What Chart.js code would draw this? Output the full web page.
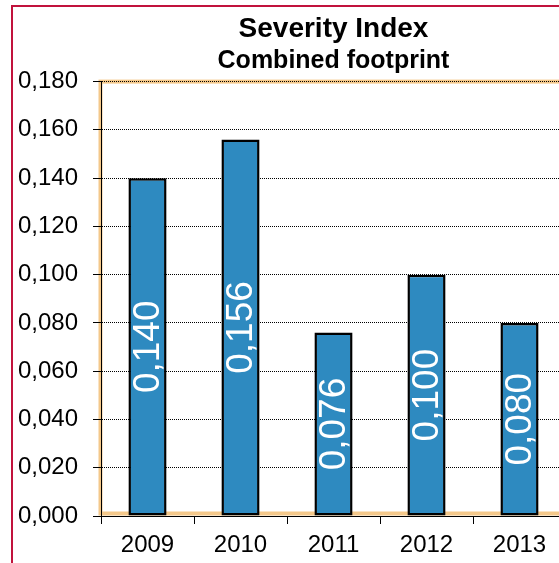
<!DOCTYPE html>
<html>
<head>
<meta charset="utf-8">
<script src="https://cdn.jsdelivr.net/npm/chart.js@4/dist/chart.umd.min.js"></script>
<style>
  html, body { margin: 0; padding: 0; overflow: hidden; background: #fff; }
  #wrap { width: 667px; height: 563px; }
</style>
</head>
<body>
<div id="wrap"><canvas id="c" width="667" height="563"></canvas></div>
<script>
const categories = ['2009', '2010', '2011', '2012', '2013'];
const severityValues = [0.140, 0.156, 0.076, 0.100, 0.080];
const yMin = 0;
const yMax = 0.18;
const yStep = 0.02;
const titleText = 'Severity Index';
const subtitleText = 'Combined footprint';

const FONT = "'Liberation Sans', Arial, sans-serif";
const fmt = v => Number(v).toFixed(3).replace('.', ',');

const framePlugin = {
  id: 'frame',
  beforeDraw(chart) {
    const ctx = chart.ctx;
    const a = chart.chartArea;
    ctx.save();
    ctx.fillStyle = '#ffffff';
    ctx.fillRect(0, 0, chart.width, chart.height);
    // outer crimson border
    ctx.strokeStyle = '#c1123c';
    ctx.lineWidth = 2;
    ctx.beginPath();
    ctx.moveTo(12, chart.height + 2);
    ctx.lineTo(12, 6);
    ctx.lineTo(chart.width + 2, 6);
    ctx.stroke();
    // orange plot area border
    ctx.strokeStyle = '#f4c88a';
    ctx.lineWidth = 4;
    ctx.strokeRect(a.left - 0.5, a.top, a.right - a.left + 0.5, a.bottom - a.top - 2.5);
    ctx.restore();
  }
};

const labelPlugin = {
  id: 'barLabels',
  afterDatasetsDraw(chart) {
    const ctx = chart.ctx;
    const meta = chart.getDatasetMeta(0);
    const data = chart.data.datasets[0].data;
    ctx.save();
    ctx.fillStyle = '#ffffff';
    ctx.font = '37px ' + FONT;
    ctx.textAlign = 'center';
    ctx.textBaseline = 'middle';
    meta.data.forEach((bar, i) => {
      const p = bar.getProps(['x', 'y', 'base'], true);
      const cy = (p.y + p.base) / 2;
      ctx.save();
      ctx.translate(p.x + 1, cy);
      ctx.rotate(-Math.PI / 2);
      ctx.fillText(fmt(data[i]), 0, 0);
      ctx.restore();
    });
    ctx.restore();
  }
};

new Chart(document.getElementById('c'), {
  type: 'bar',
  data: {
    labels: categories,
    datasets: [{
      data: severityValues,
      backgroundColor: '#2e8ac0',
      borderColor: '#000000',
      borderWidth: 2.5,
      borderSkipped: false,
      barPercentage: 0.41,
      categoryPercentage: 1.0,
      yAxisID: 'y'
    }]
  },
  options: {
    responsive: false,
    devicePixelRatio: 1,
    animation: false,
    events: [],
    layout: { padding: { left: 0, right: 0, top: 0, bottom: 0 } },
    plugins: {
      legend: { display: false },
      tooltip: { enabled: false },
      title: {
        display: true,
        text: titleText,
        color: '#000000',
        font: { family: FONT, size: 28, weight: 'bold', lineHeight: 1.2 },
        padding: { top: 12, bottom: 1 }
      },
      subtitle: {
        display: true,
        text: subtitleText,
        color: '#000000',
        font: { family: FONT, size: 25, weight: 'bold', lineHeight: 1.2 },
        padding: { top: 0, bottom: 5 }
      }
    },
    scales: {
      x: {
        position: 'bottom',
        afterFit(scale) { scale.height = 47; },
        grid: {
          display: true,
          offset: true,
          drawOnChartArea: false,
          drawTicks: true,
          tickLength: 8,
          color: '#000000',
          lineWidth: 1
        },
        border: { display: true, color: '#000000', width: 1 },
        ticks: {
          color: '#000000',
          font: { family: FONT, size: 24 },
          padding: 7,
          maxRotation: 0,
          autoSkip: false
        }
      },
      y: {
        position: 'left',
        min: yMin,
        max: yMax,
        afterFit(scale) { scale.width = 101; },
        grid: {
          display: true,
          color: '#000000',
          lineWidth: 1,
          drawTicks: true,
          tickLength: 8,
          tickColor: '#000000',
          tickBorderDash: []
        },
        border: { display: true, color: '#000000', width: 1, dash: [1, 1] },
        ticks: {
          stepSize: yStep,
          color: '#000000',
          font: { family: FONT, size: 24 },
          padding: 15,
          callback: v => fmt(v)
        }
      },
      yRightSpacer: {
        position: 'right',
        display: true,
        afterFit(scale) { scale.width = 101; },
        grid: { display: false, drawTicks: false },
        border: { display: false },
        ticks: { display: false }
      }
    }
  },
  plugins: [framePlugin, labelPlugin]
});
</script>
</body>
</html>
